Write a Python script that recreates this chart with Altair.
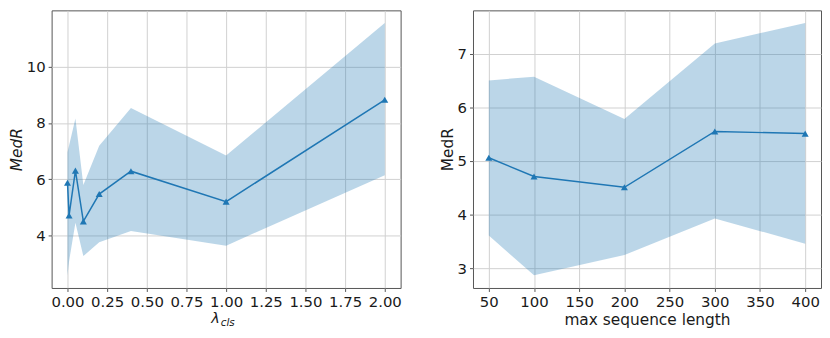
import altair as alt
import pandas as pd

# ---- data ----
lam = [0.0, 0.01, 0.05, 0.1, 0.2, 0.4, 1.0, 2.0]
lam_medr = [5.88, 4.72, 6.31, 4.51, 5.48, 6.29, 5.21, 8.82]
lam_upper = [6.96, 7.20, 8.16, 5.80, 7.19, 8.53, 6.85, 11.54]
lam_lower = [2.60, 3.10, 4.46, 3.28, 3.77, 4.17, 3.65, 6.15]

seqlen = [50, 100, 200, 300, 400]
seq_medr = [5.06, 4.71, 4.51, 5.55, 5.51]
seq_upper = [6.50, 6.57, 5.78, 7.19, 7.57]
seq_lower = [3.61, 2.87, 3.25, 3.93, 3.46]

lam_ticks = [0.0, 0.25, 0.5, 0.75, 1.0, 1.25, 1.5, 1.75, 2.0]
lam_yticks = [4, 6, 8, 10]
seq_ticks = [50, 100, 150, 200, 250, 300, 350, 400]
seq_yticks = [3, 4, 5, 6, 7]

BLUE = "#1f77b4"
FONT = "DejaVu Sans"
H = 280
LFS = 15
TFS = 15.5

df_l = pd.DataFrame({"x": lam, "y": lam_medr, "lo": lam_lower, "hi": lam_upper})
df_r = pd.DataFrame({"x": seqlen, "y": seq_medr, "lo": seq_lower, "hi": seq_upper})


def axis_common(**kw):
    return alt.Axis(
        grid=True, gridColor="#d0d0d0", gridWidth=1,
        tickSize=3.5, tickColor="#555", labelPadding=3,
        labelFont=FONT, labelFontSize=LFS, labelColor="#1a1a1a",
        titleFont=FONT, titleFontSize=TFS, titleColor="#1a1a1a",
        titleFontWeight="normal", domain=False, **kw)


def panel(df, xdom, ydom, xticks, yticks, xfmt, xtitle, ytitle, ystyle, width):
    xs = alt.Scale(domain=xdom, nice=False, zero=False)
    ys = alt.Scale(domain=ydom, nice=False, zero=False)
    xax = axis_common(values=xticks, format=xfmt, title=xtitle, titlePadding=3) if xtitle else \
        axis_common(values=xticks, format=xfmt, title=None)
    yax = axis_common(values=yticks, format="d", title=ytitle, titlePadding=2,
                      titleFontStyle=ystyle)
    base = alt.Chart(df)
    band = base.mark_area(color=BLUE, opacity=0.3).encode(
        x=alt.X("x:Q", scale=xs, axis=xax),
        y=alt.Y("lo:Q", scale=ys, axis=yax),
        y2="hi:Q",
    )
    line = base.mark_line(color=BLUE, strokeWidth=1.5).encode(
        x=alt.X("x:Q", scale=xs), y=alt.Y("y:Q", scale=ys))
    pts = base.mark_point(shape="triangle-up", filled=True, color=BLUE, size=50, opacity=1).encode(
        x=alt.X("x:Q", scale=xs), y=alt.Y("y:Q", scale=ys))
    return alt.layer(band, line, pts).properties(width=width, height=H)


left = panel(df_l, [-0.1, 2.1], [2.15, 11.99], lam_ticks, lam_yticks, ".2f",
             None, "MedR", "italic", 352)

lam_txt = alt.Chart(pd.DataFrame({"t": ["λ"]})).mark_text(
    font=FONT, fontSize=14.5, align="left", baseline="alphabetic", color="#1a1a1a", fontStyle="italic"
).encode(text="t:N", x=alt.value(161), y=alt.value(H + 35))
cls_txt = alt.Chart(pd.DataFrame({"t": ["cls"]})).mark_text(
    font=FONT, fontSize=10.5, align="left", baseline="alphabetic", color="#1a1a1a", fontStyle="italic"
).encode(text="t:N", x=alt.value(170.5), y=alt.value(H + 38))

left = alt.layer(left, lam_txt, cls_txt).properties(width=352, height=H)

right = panel(df_r, [32.5, 417.5], [2.635, 7.805], seq_ticks, seq_yticks, "d",
              "max sequence length", "MedR", "normal", 351)

chart = alt.hconcat(left, right, spacing=37).properties(padding=0).configure_view(
    stroke="#555", strokeWidth=1
)

chart.save("out.html", embed_options={"renderer": "svg", "actions": False})
